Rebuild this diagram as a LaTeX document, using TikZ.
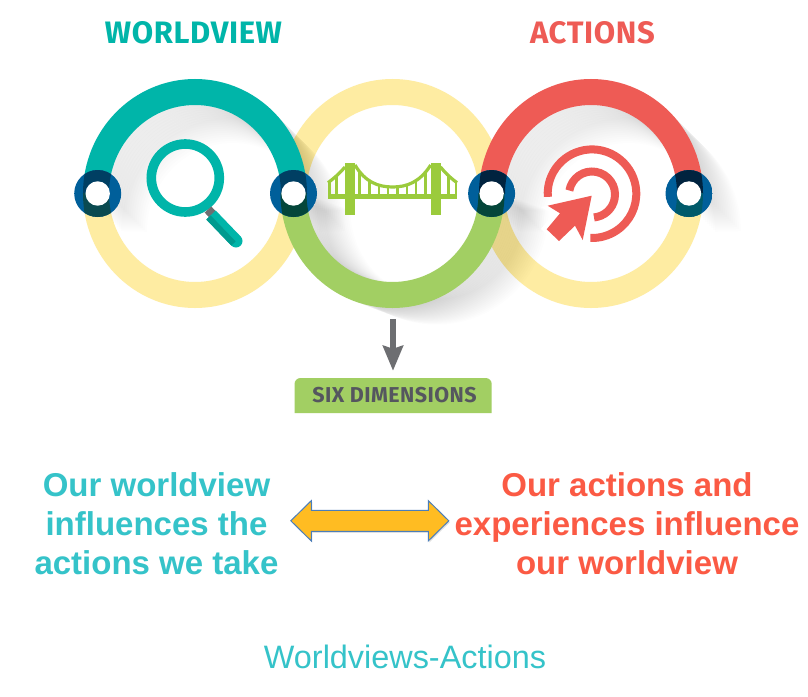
\documentclass[tikz,border=0pt]{standalone}
\usepackage{fontspec}
\setmainfont{Liberation Sans}
\newfontfamily\dinfont[LetterSpace=2]{Fira Sans}
\usetikzlibrary{arrows.meta,shapes.arrows,shadows}
\definecolor{wteal}{HTML}{00B5A9}
\definecolor{wtealdk}{HTML}{009A8F}
\definecolor{wyellow}{HTML}{FEECA2}
\definecolor{wgreen}{HTML}{A2CF63}
\definecolor{wbridge}{HTML}{9BCB3C}
\definecolor{wred}{HTML}{EE5B55}
\definecolor{wblue}{HTML}{005F9A}
\definecolor{wtxtteal}{HTML}{35C3C9}
\definecolor{wtxtred}{HTML}{FB5A44}
\definecolor{wgrey}{HTML}{6D6E71}
\definecolor{wboxtxt}{HTML}{55565F}
\definecolor{warrowfill}{HTML}{FFBC22}
\definecolor{warrowline}{HTML}{4A7EBB}
\definecolor{ovnavy}{HTML}{003F63}
\definecolor{ovtealdk}{HTML}{0A4A50}
\definecolor{ovgreen}{HTML}{04463A}
\definecolor{ovdeep}{HTML}{00233F}
\definecolor{ovsea}{HTML}{005A6A}
\tikzset{
  band/.style={line width=26pt},
  bigrad/.style={x radius=99,y radius=101.5},
  head/.style={font=\dinfont\bfseries\fontsize{31}{36}\selectfont,inner sep=0pt},
  say/.style={font=\bfseries\fontsize{33}{39}\selectfont,align=center,inner sep=0pt},
  castshadow/.style={band,draw=black,draw opacity=.007},
  hanger/.style={wbridge,line width=2.3pt},
  cable/.style={wbridge,line width=3.2pt},
}
\newcommand{\toparch}[1]{({#1-99},193.5) arc[start angle=180,end angle=360,bigrad]}
\newcommand{\botarch}[1]{({#1-99},193.5) arc[start angle=180,end angle=0,bigrad]}
\newcommand{\ringdot}[5]{%
  \begin{scope}
    \clip (#1,193.5) circle[radius=23.5];
    \fill[wblue] (#1,193.5) circle[radius=24];
    \begin{scope}
      \clip (#1-25,168) rectangle (#1+25,193.5);
      \draw[band,draw=#4] (#2,193.5) ellipse[bigrad];
    \end{scope}
    \begin{scope}
      \clip (#1-25,193.5) rectangle (#1+25,219);
      \draw[band,draw=#5] (#3,193.5) ellipse[bigrad];
    \end{scope}
  \end{scope}
  \fill[white] (#1,193.5) circle[radius=12.2];
}
\begin{document}
\begin{tikzpicture}[x=1pt,y=-1pt]
\useasboundingbox (0,0) rectangle (808,696);
\fill[white] (0,0) rectangle (808,696);
% yellow halves
\draw[band,wyellow] \botarch{195};
\draw[band,wyellow] \toparch{392.5};
\draw[band,wyellow] \botarch{591};
% cast shadows
\foreach \t in {2,4,...,38}{
  \begin{scope}[shift={(\t,\t)}]
    \draw[castshadow] \toparch{195};
    \draw[castshadow] \toparch{591};
  \end{scope}
}
\foreach \t in {2,4,...,44}{
  \begin{scope}[shift={(\t,0.38*\t)}]
    \draw[castshadow] \botarch{392.5};
  \end{scope}
}
% coloured halves
\draw[band,wteal] \toparch{195};
\draw[band,wgreen] \botarch{392.5};
\draw[band,wred] \toparch{591};
% magnifier
\draw[wteal,line width=9.6pt] (185.3,178) circle[radius=34];
\draw[wgrey,line width=9pt] (208,209.5) -- (213,215);
\draw[wteal,line width=13pt] (211,215) -- (236,241);
\fill[wteal] (236,241) circle[radius=6.5];
\draw[wtealdk,line width=6pt] (208.5,217.5) -- (233.5,243.5);
% bridge
\fill[wbridge] (345,162.5) rectangle (355,215);
\fill[wbridge] (430.5,162.5) rectangle (440.5,215);
\fill[wbridge] (328,194) rectangle (457,199.3);
\draw[cable] (355,165) .. controls (365,182) and (378,187) .. (392.7,187)
             .. controls (407,187) and (420,182) .. (430.7,165);
\draw[cable] (345,167) .. controls (338,175) and (333,179) .. (328,182.7);
\draw[cable] (440.5,167) .. controls (447,175) and (452,179) .. (457,182.7);
\foreach \hx/\hy in {336.5/176,329.5/182,359.5/172,369.5/180,378.7/185,388/187,397.5/187,407/185,416/180,425.5/172,448.5/175,456/182}{
  \draw[hanger] (\hx,\hy) -- (\hx,195);
}
% target
\draw[wred,line width=8pt] (592,193.7) ++(176:44.3) arc[start angle=176,end angle=452,radius=44.3];
\draw[wred,line width=8pt] (592,194.5) ++(190:23) arc[start angle=190,end angle=445,radius=23];
\fill[white] (591.7,195.7) -- (541,207) -- (553,214) -- (541,229) -- (559,247) -- (574,232) -- (583,247) -- cycle;
\fill[wred] (591.7,195.7) -- (547.7,205.7) -- (560,213.3) -- (546.7,229.3) -- (559,241) -- (575,225.7) -- (582.7,240) -- cycle;
% rings
\ringdot{97.7}{195}{195}{ovnavy}{ovtealdk}
\ringdot{293.5}{195}{392.5}{ovnavy}{ovgreen}
\ringdot{491.6}{591}{392.5}{ovdeep}{ovgreen}
\ringdot{689}{591}{591}{ovdeep}{ovsea}
% headings
\node[head,wteal] (worldview) at (193.5,32.5) {WORLDVIEW};
\node[head,wred] (actions) at (592.5,32.5) {ACTIONS};
% six dimensions
\fill[wgreen] (294.5,413) -- (294.5,384) arc[start angle=180,end angle=270,radius=6] -- (485.7,378) arc[start angle=270,end angle=360,radius=6] -- (491.7,413) -- cycle;
\node[inner sep=0pt,minimum width=197pt,minimum height=35pt] (sixbox) at (393,395.5) {};
\node[font=\dinfont\bfseries\fontsize{21.5}{26}\selectfont,wboxtxt,inner sep=0pt] (sixlabel) at (394.5,395.5) {SIX DIMENSIONS};
\coordinate (sixtop) at (393,319);
\draw[wgrey,line width=6pt,-{Stealth[length=25pt,width=20pt,inset=3pt]},shorten >=7pt] (sixtop) -- (sixbox.north);
% double arrow
\node[say,wtxtteal] (left) at (156.5,524) {Our worldview\\influences the\\actions we take};
\node[say,wtxtred] (right) at (627,524) {Our actions and\\experiences influence\\our worldview};
\node[shape=double arrow,draw=warrowline,fill=warrowfill,line width=1pt,inner xsep=0pt,inner ysep=10pt,
  minimum height=158pt,double arrow head extend=9.7pt,double arrow tip angle=89,
  drop shadow={opacity=.25,shadow xshift=1pt,shadow yshift=-1.5pt}] (link) at (369.8,520.8) {};
\node[font=\fontsize{32.4}{38}\selectfont,wtxtteal,inner sep=0pt] (caption) at (405,657) {Worldviews-Actions};
\end{tikzpicture}
\end{document}
